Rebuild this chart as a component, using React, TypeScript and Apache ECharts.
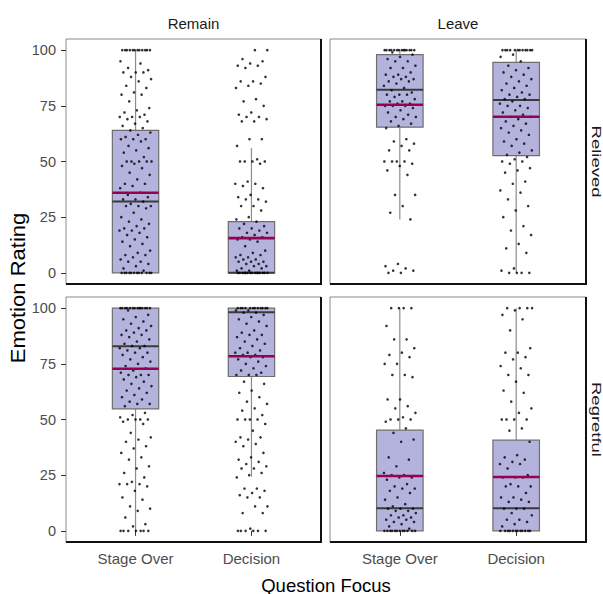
import React, { useEffect, useRef } from 'react';
import * as echarts from 'echarts';

const columnLabels = ['Remain', 'Leave'];
const rowLabels = ['Relieved', 'Regretful'];
const categories = ['Stage Over', 'Decision'];
const yTicks = [0, 25, 50, 75, 100];

// box stats per category: [lower whisker, Q1, median, Q3, upper whisker]
const remainRelievedBox = [[0, 0, 32, 64, 100], [0, 0, 0, 23, 56]];
const leaveRelievedBox = [[24, 65.4, 82.2, 98, 100], [0, 52.6, 77.6, 94.5, 100]];
const remainRegretfulBox = [[0, 54.8, 82.9, 100, 100], [24.3, 69.3, 98.2, 100, 100]];
const leaveRegretfulBox = [[0, 0, 10.2, 45.2, 100], [0, 0, 10.2, 40.7, 100]];

// means per category
const remainRelievedMean = [36, 15.6];
const leaveRelievedMean = [75.5, 70.1];
const remainRegretfulMean = [72.8, 78.4];
const leaveRegretfulMean = [24.6, 24.2];

// individual ratings
const remainRelievedStage = [100, 100, 100, 100, 100, 100, 100, 100, 100, 100, 100, 100, 95, 94, 92, 91, 90, 90, 90, 88, 87, 86, 84, 83, 81, 80, 80, 77, 74, 73, 72, 71, 70, 70, 70, 69, 68, 67, 66, 65, 64, 63, 62, 61, 60, 60, 60, 59, 57, 56, 55, 54, 52, 50, 50, 50, 50, 50, 49, 48, 47, 45, 44, 42, 40, 40, 39, 38, 36, 35, 34, 33, 33, 32, 31, 30, 30, 30, 29, 27, 25, 24, 23, 22, 21, 20, 20, 19, 19, 18, 17, 16, 15, 14, 13, 12, 10, 9, 8, 8, 7, 6, 5, 5, 4, 3, 2, 1, 0, 0, 0, 0, 0, 0, 0, 0, 0, 0, 0, 0];
const remainRelievedDecision = [100, 100, 96, 95, 94, 93, 93, 92, 88, 86, 86, 85, 84, 83, 78, 77, 75, 72, 71, 70, 70, 69, 68, 68, 60, 60, 57, 51, 50, 50, 50, 50, 49, 41, 40, 40, 39, 38, 35, 34, 33, 33, 32, 30, 30, 28, 25, 24, 23, 22, 21, 20, 20, 19, 18, 18, 17, 16, 16, 15, 15, 14, 12, 10, 9, 8, 8, 7, 7, 6, 6, 5, 5, 5, 4, 4, 3, 3, 2, 2, 1, 1, 0, 0, 0, 0, 0, 0, 0, 0, 0, 0, 0, 0, 0, 0, 0];
const leaveRelievedStage = [100, 100, 100, 100, 100, 100, 100, 100, 100, 100, 100, 100, 100, 100, 99, 98, 97, 96, 95, 95, 93, 92, 92, 90, 89, 89, 88, 88, 87, 87, 86, 86, 85, 84, 83, 82, 81, 80, 80, 80, 79, 78, 77, 77, 76, 76, 75, 75, 75, 74, 73, 72, 71, 70, 70, 69, 68, 67, 66, 65, 60, 59, 58, 57, 55, 55, 50, 50, 50, 50, 49, 48, 46, 44, 35, 35, 30, 27, 24, 4, 3, 2, 1, 1, 0, 0];
const leaveRelievedDecision = [100, 100, 100, 100, 100, 100, 100, 100, 100, 100, 100, 100, 98, 97, 95, 93, 92, 91, 90, 89, 88, 87, 86, 85, 84, 83, 82, 81, 80, 80, 79, 78, 78, 77, 76, 75, 75, 74, 73, 72, 71, 70, 70, 69, 68, 67, 66, 65, 64, 63, 62, 60, 59, 58, 57, 55, 54, 53, 52, 51, 50, 50, 49, 47, 46, 45, 41, 40, 37, 36, 33, 30, 28, 25, 21, 19, 17, 13, 11, 9, 2, 1, 0, 0, 0, 0];
const remainRegretfulStage = [100, 100, 100, 100, 100, 100, 100, 100, 100, 100, 100, 100, 100, 100, 99, 97, 96, 95, 94, 93, 92, 91, 90, 90, 89, 88, 88, 87, 86, 85, 84, 83, 83, 82, 82, 81, 80, 80, 79, 78, 77, 76, 75, 74, 73, 72, 71, 70, 70, 70, 69, 68, 67, 66, 65, 64, 63, 62, 61, 60, 59, 58, 57, 57, 56, 53, 52, 51, 50, 50, 50, 50, 49, 48, 44, 42, 41, 40, 38, 37, 35, 33, 32, 29, 28, 26, 24, 22, 21, 21, 21, 20, 18, 15, 14, 11, 10, 9, 6, 3, 2, 0, 0, 0, 0, 0, 0, 0];
const remainRegretfulDecision = [100, 100, 100, 100, 100, 100, 100, 100, 100, 100, 100, 100, 99, 99, 98, 98, 97, 96, 95, 94, 93, 92, 90, 89, 88, 88, 87, 86, 85, 84, 83, 82, 81, 80, 80, 79, 79, 78, 78, 77, 76, 75, 74, 73, 72, 71, 70, 70, 70, 67, 66, 63, 62, 60, 58, 57, 55, 54, 52, 50, 50, 50, 50, 48, 45, 42, 42, 41, 40, 39, 38, 35, 33, 32, 31, 30, 29, 28, 28, 26, 25, 24, 19, 19, 18, 17, 16, 15, 15, 11, 11, 8, 8, 1, 0, 0, 0, 0, 0, 0];
const leaveRegretfulStage = [100, 100, 100, 100, 92, 86, 86, 82, 80, 79, 78, 75, 75, 70, 70, 69, 59, 59, 56, 55, 53, 51, 50, 50, 50, 49, 46, 44, 41, 40, 33, 32, 29, 26, 25, 25, 24, 24, 23, 21, 20, 19, 19, 18, 17, 15, 14, 12, 11, 10, 10, 10, 9, 9, 8, 7, 7, 6, 6, 5, 5, 4, 4, 3, 2, 1, 0, 0, 0, 0, 0, 0, 0, 0, 0, 0, 0, 0];
const leaveRegretfulDecision = [100, 100, 100, 100, 99, 97, 95, 90, 82, 80, 80, 78, 77, 74, 73, 70, 70, 67, 63, 62, 58, 55, 53, 50, 50, 50, 50, 46, 45, 40, 34, 33, 32, 31, 30, 30, 28, 25, 24, 24, 24, 21, 20, 20, 20, 17, 15, 15, 14, 13, 13, 10, 10, 10, 8, 7, 5, 5, 4, 3, 2, 0, 0, 0, 0, 0, 0, 0, 0, 0, 0, 0, 0];

const panels = [
  { box: remainRelievedBox, mean: remainRelievedMean, points: [remainRelievedStage, remainRelievedDecision] },
  { box: leaveRelievedBox, mean: leaveRelievedMean, points: [leaveRelievedStage, leaveRelievedDecision] },
  { box: remainRegretfulBox, mean: remainRegretfulMean, points: [remainRegretfulStage, remainRegretfulDecision] },
  { box: leaveRegretfulBox, mean: leaveRegretfulMean, points: [leaveRegretfulStage, leaveRegretfulDecision] },
];

const FONT = '"Liberation Sans", Arial, Helvetica, sans-serif';
const COLS = [66, 330];
const COL_W = [255, 256];
const ROWS = [39, 297];
const ROW_H = 245;
const BOX_W = 0.4;
const JITTER = 0.28;

export default function App() {
  const ref = useRef<HTMLDivElement>(null);

  useEffect(() => {
    if (!ref.current) return;
    const chart = echarts.init(ref.current, undefined, { renderer: 'svg' });

    const grids: any[] = [];
    const xAxes: any[] = [];
    const yAxes: any[] = [];
    const series: any[] = [];
    const graphics: any[] = [];

    panels.forEach((p, gi) => {
      const r = Math.floor(gi / 2);
      const c = gi % 2;
      const left = COLS[c];
      const top = ROWS[r];
      const w = COL_W[c];
      grids.push({
        left, top, width: w, height: ROW_H,
        show: true, borderColor: '#8a8a8a', borderWidth: 1, backgroundColor: '#fff',
      });
      const bottomRow = r === 1;
      const leftCol = c === 0;
      xAxes.push({
        type: 'value', gridIndex: gi, min: 0.4, max: 2.6,
        splitLine: { show: false },
        axisLine: { show: false },
        axisTick: bottomRow
          ? { show: true, customValues: [1, 2], length: 5, lineStyle: { color: '#333', width: 1 } }
          : { show: false },
        axisLabel: bottomRow
          ? {
              show: true, customValues: [1, 2], margin: 9, color: '#4d4d4d', fontSize: 15, fontFamily: FONT,
              formatter: (v: number) => categories[Math.round(v) - 1] || '',
            }
          : { show: false },
      });
      yAxes.push({
        type: 'value', gridIndex: gi, min: -5, max: 105,
        splitLine: { show: false },
        axisLine: { show: false },
        axisTick: leftCol
          ? { show: true, customValues: yTicks, length: 5, lineStyle: { color: '#333', width: 1 } }
          : { show: false },
        axisLabel: leftCol
          ? { show: true, customValues: yTicks, margin: 10, color: '#4d4d4d', fontSize: 14.5, fontFamily: FONT }
          : { show: false },
      });

      // boxes
      series.push({
        type: 'custom', xAxisIndex: gi, yAxisIndex: gi, z: 2,
        data: p.box.map((b, i) => [i + 1, ...b]),
        encode: { x: 0, y: [1, 2, 3, 4, 5] },
        renderItem: (params: any, api: any) => {
          const x = api.value(0);
          const lo = api.coord([x, api.value(1)]);
          const q1 = api.coord([x, api.value(2)]);
          const med = api.coord([x, api.value(3)]);
          const q3 = api.coord([x, api.value(4)]);
          const hi = api.coord([x, api.value(5)]);
          const bw = api.size([BOX_W, 0])[0];
          const cx = q1[0];
          return {
            type: 'group',
            children: [
              { type: 'line', shape: { x1: cx, y1: hi[1], x2: cx, y2: q3[1] }, style: { stroke: '#8c8c8c', lineWidth: 1.2 } },
              { type: 'line', shape: { x1: cx, y1: q1[1], x2: cx, y2: lo[1] }, style: { stroke: '#8c8c8c', lineWidth: 1.2 } },
              {
                type: 'rect',
                shape: { x: cx - bw / 2, y: q3[1], width: bw, height: Math.max(q1[1] - q3[1], 0.5) },
                style: { fill: '#b3b3de', stroke: '#6e6e6e', lineWidth: 1.2 },
              },
              { type: 'line', shape: { x1: cx - bw / 2, y1: med[1], x2: cx + bw / 2, y2: med[1] }, style: { stroke: '#3a3a3a', lineWidth: 2 } },
            ],
          };
        },
      });

      // jittered points
      const pts: number[][] = [];
      p.points.forEach((arr, ci) => {
        arr.forEach((v, i) => {
          const off = (((i + 1) * 0.6180339887 + ci * 0.37) % 1 - 0.5) * JITTER;
          pts.push([ci + 1 + off, v]);
        });
      });
      series.push({
        type: 'scatter', xAxisIndex: gi, yAxisIndex: gi, z: 3,
        symbol: 'circle', symbolSize: 2.6,
        itemStyle: { color: '#000' },
        data: pts,
      });

      // mean lines
      series.push({
        type: 'custom', xAxisIndex: gi, yAxisIndex: gi, z: 4,
        data: p.mean.map((m, i) => [i + 1, m]),
        encode: { x: 0, y: 1 },
        renderItem: (params: any, api: any) => {
          const pt = api.coord([api.value(0), api.value(1)]);
          const bw = api.size([BOX_W, 0])[0];
          return {
            type: 'line',
            shape: { x1: pt[0] - bw / 2, y1: pt[1], x2: pt[0] + bw / 2, y2: pt[1] },
            style: { stroke: '#990050', lineWidth: 2.6 },
          };
        },
      });

      // dark right/bottom edges
      graphics.push({
        type: 'polyline', z: 10,
        shape: { points: [[left + w, top], [left + w, top + ROW_H], [left, top + ROW_H]] },
        style: { stroke: '#111', lineWidth: 2, fill: null },
      });
    });

    columnLabels.forEach((t, c) => {
      graphics.push({
        type: 'text', x: COLS[c] + COL_W[c] / 2, y: 23,
        style: { text: t, fontSize: 15, fontFamily: FONT, fill: '#1a1a1a', align: 'center', verticalAlign: 'middle' },
      });
    });
    rowLabels.forEach((t, r) => {
      graphics.push({
        type: 'text', x: 596, y: ROWS[r] + ROW_H / 2, rotation: -Math.PI / 2, scaleX: 1.32, scaleY: 0.85,
        style: { text: t, fontSize: 14, fontFamily: FONT, fill: '#1a1a1a', align: 'center', verticalAlign: 'middle' },
      });
    });
    graphics.push({
      type: 'text', x: 18, y: 288, rotation: Math.PI / 2, scaleX: 1.13,
      style: { text: 'Emotion Rating', fontSize: 19.5, fontFamily: FONT, fill: '#000', align: 'center', verticalAlign: 'middle' },
    });
    graphics.push({
      type: 'text', x: 326, y: 585,
      style: { text: 'Question Focus', fontSize: 18.5, fontFamily: FONT, fill: '#000', align: 'center', verticalAlign: 'middle' },
    });

    chart.setOption({
      animation: false,
      backgroundColor: '#fff',
      grid: grids,
      xAxis: xAxes,
      yAxis: yAxes,
      series,
      graphic: graphics,
    });

    return () => chart.dispose();
  }, []);

  return <div ref={ref} style={{ width: 603, height: 594, position: 'absolute', left: 0, top: 0 }} />;
}
